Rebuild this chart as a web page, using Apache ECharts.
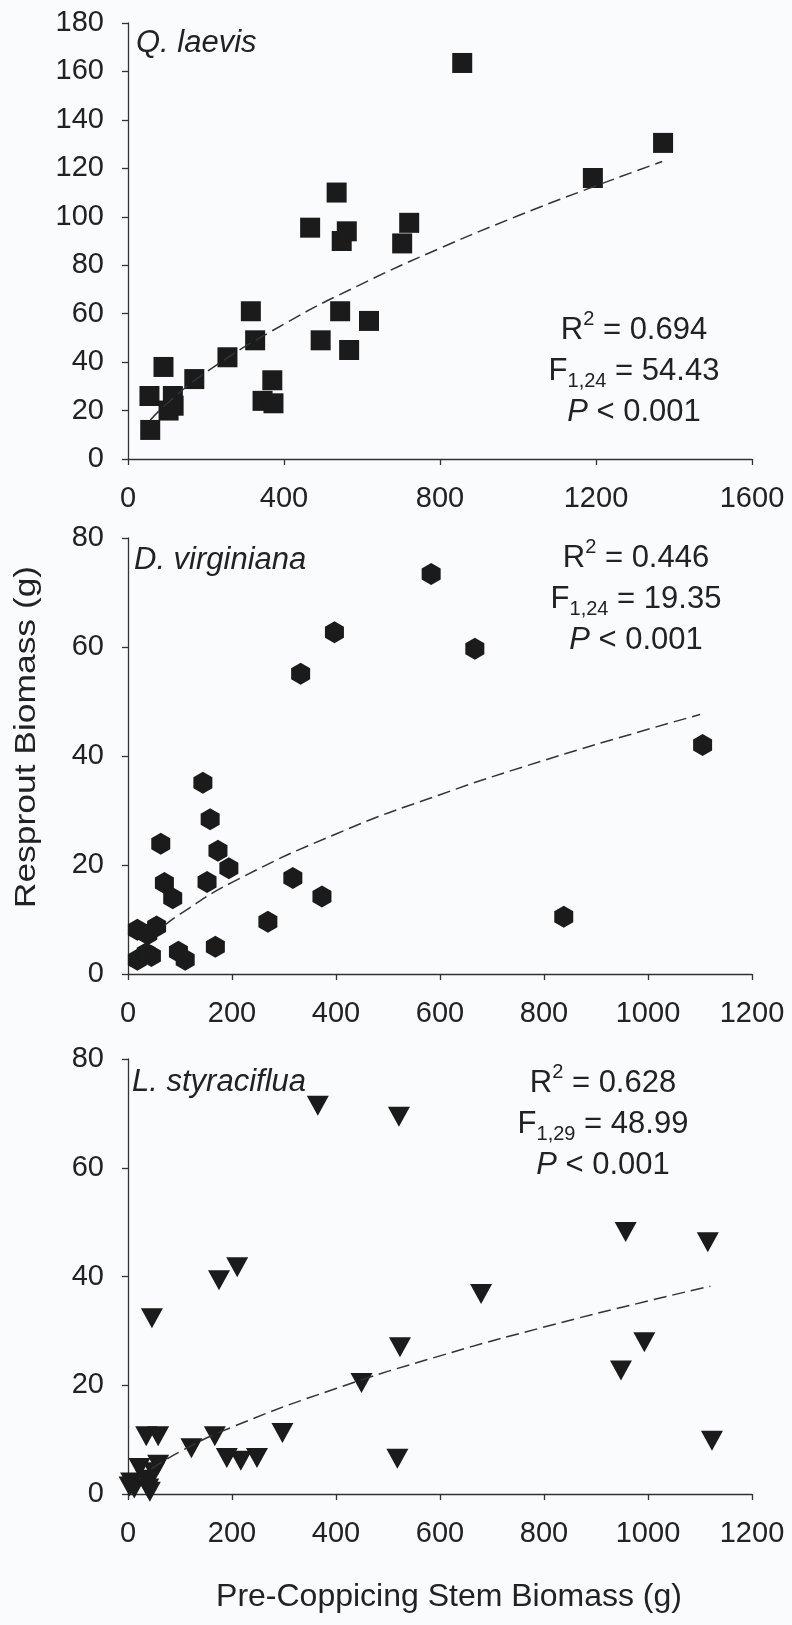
<!DOCTYPE html>
<html>
<head>
<meta charset="utf-8">
<script src="https://cdn.jsdelivr.net/npm/echarts@6.0.0/dist/echarts.min.js"></script>
<style>
  html, body { margin: 0; padding: 0; background: #fafbfd; }
  #main { width: 792px; height: 1625px; }
</style>
</head>
<body>
<div id="main"></div>
<script>
// Q. laevis (squares)
var qlX = [57, 55, 91, 115, 104, 117, 170, 255, 315, 326, 345, 370, 373, 467, 494, 535, 544, 548, 561, 567, 618, 703, 721, 857, 1192, 1372];
var qlY = [12, 26, 38, 26, 20, 22, 33, 42, 61, 49, 24, 32.5, 23, 95.5, 49, 110, 61, 90, 94, 45, 57, 89, 97.5, 163.5, 116, 130.5];
// dashed fit
var qlFitX = [57, 100, 200, 400, 600, 800, 1000, 1200, 1370];
var qlFitY = [16, 22.9, 35.8, 55.7, 72.3, 87, 100.4, 112.8, 122.8];

// D. virginiana (hexagons)
var dvX = [144, 158, 63, 173, 194, 152, 70, 86, 317, 373, 269, 168, 97, 110, 332, 397, 583, 667, 1105, 838, 18, 55, 38, 18, 45, 35];
var dvY = [35.1, 28.4, 23.9, 22.6, 19.4, 16.9, 16.7, 13.9, 17.6, 14.2, 9.6, 5.0, 4.1, 2.6, 55.1, 62.7, 73.4, 59.7, 42, 10.5, 8.1, 8.7, 7.3, 2.6, 3.3, 3.8];
var dvFitX = [70, 100, 200, 400, 600, 800, 1000, 1100];
var dvFitY = [8.9, 11, 16.8, 25.7, 32.9, 39.2, 44.9, 47.6];

// L. styraciflua (down triangles)
var lsX = [365, 521, 46, 175, 210, 523, 449, 957, 1115, 679, 993, 948, 1123, 518, 35, 58, 122, 167, 190, 217, 248, 297, 22, 58, 50, 3, 12, 6, 39, 35, 42];
var lsY = [71.4, 69.4, 32.3, 39.3, 41.7, 27.0, 20.4, 48.2, 46.3, 36.8, 27.9, 22.7, 9.8, 6.5, 10.6, 10.6, 8.4, 10.6, 6.6, 6.1, 6.6, 11.2, 4.8, 5.4, 4.0, 1.4, 1.0, 2.1, 1.0, 2.6, 0.4];
var lsFitX = [45, 100, 200, 400, 600, 800, 1000, 1120];
var lsFitY = [4.6, 7.8, 12.3, 19.4, 25.4, 30.7, 35.5, 38.2];

function pairs(xs, ys) {
    var out = [];
    for (var i = 0; i < xs.length; i++) {
        out.push([xs[i], ys[i]]);
    }
    return out;
}

var FONT = 'Liberation Sans';
var INK = '#222';
var hexPath = 'path://M0,-1 L0.866,-0.5 L0.866,0.5 L0,1 L-0.866,0.5 L-0.866,-0.5 Z';
var plain = function (v) { return String(v); };

var grids = [
    { left: 128, width: 624, top: 23, height: 436 },
    { left: 128, width: 624, top: 538, height: 436 },
    { left: 128, width: 624, top: 1059, height: 435 }
];

function xAxisCfg(idx, max, step) {
    return {
        type: 'value', gridIndex: idx, min: 0, max: max, interval: step,
        axisLine: { show: true, lineStyle: { color: '#333', width: 1.3 } },
        axisTick: { show: true, length: 6, lineStyle: { color: '#333', width: 1.3 } },
        axisLabel: { fontFamily: FONT, fontSize: 29, color: INK, margin: 25, formatter: plain },
        splitLine: { show: false }
    };
}
function yAxisCfg(idx, max, step) {
    return {
        type: 'value', gridIndex: idx, min: 0, max: max, interval: step,
        axisLine: { show: true, lineStyle: { color: '#333', width: 1.3 } },
        axisTick: { show: true, length: 6, lineStyle: { color: '#333', width: 1.3 } },
        axisLabel: { fontFamily: FONT, fontSize: 29, color: INK, margin: 24, formatter: plain },
        splitLine: { show: false }
    };
}
function fitLine(idx, xs, ys) {
    return {
        type: 'line', xAxisIndex: idx, yAxisIndex: idx,
        data: pairs(xs, ys), smooth: true, showSymbol: false, silent: true,
        lineStyle: { color: '#333', width: 1.5, type: [13, 6] }
    };
}
function statText(x, y, r2, df, f) {
    return {
        type: 'text', x: x, y: y, silent: true,
        style: {
            text: '{t|R}{sup|2}{t| = ' + r2 + '}\n{t|F}{sub|' + df + '}{t| = ' + f + '}\n{i|P}{t| < 0.001}',
            align: 'center', verticalAlign: 'middle', fill: INK,
            rich: {
                t: { fontFamily: FONT, fontSize: 31, lineHeight: 41, verticalAlign: 'middle', fill: INK },
                i: { fontFamily: FONT, fontSize: 31, fontStyle: 'italic', lineHeight: 41, verticalAlign: 'middle', fill: INK },
                sup: { fontFamily: FONT, fontSize: 20, lineHeight: 22, verticalAlign: 'top', fill: INK },
                sub: { fontFamily: FONT, fontSize: 20, lineHeight: 16, verticalAlign: 'bottom', fill: INK }
            }
        }
    };
}
function speciesText(x, y, name) {
    return {
        type: 'text', x: x, y: y, silent: true,
        style: { text: name, fontFamily: FONT, fontSize: 31, fontStyle: 'italic', fill: INK, align: 'left', verticalAlign: 'middle' }
    };
}

var chart = echarts.init(document.getElementById('main'), null, { renderer: 'canvas' });
chart.setOption({
    backgroundColor: '#fafbfd',
    animation: false,
    grid: grids,
    xAxis: [xAxisCfg(0, 1600, 400), xAxisCfg(1, 1200, 200), xAxisCfg(2, 1200, 200)],
    yAxis: [yAxisCfg(0, 180, 20), yAxisCfg(1, 80, 20), yAxisCfg(2, 80, 20)],
    series: [
        fitLine(0, qlFitX, qlFitY),
        fitLine(1, dvFitX, dvFitY),
        fitLine(2, lsFitX, lsFitY),
        {
            type: 'scatter', xAxisIndex: 0, yAxisIndex: 0, clip: false,
            data: pairs(qlX, qlY), symbol: 'rect', symbolSize: 20,
            itemStyle: { color: '#1b1b1b', opacity: 1 }
        },
        {
            type: 'scatter', xAxisIndex: 1, yAxisIndex: 1, clip: false,
            data: pairs(dvX, dvY), symbol: hexPath, symbolSize: [19, 22],
            itemStyle: { color: '#1b1b1b', opacity: 1 }
        },
        {
            type: 'scatter', xAxisIndex: 2, yAxisIndex: 2, clip: false,
            data: pairs(lsX, lsY), symbol: 'triangle', symbolRotate: 180, symbolSize: [22, 20],
            itemStyle: { color: '#1b1b1b', opacity: 1 }
        }
    ],
    graphic: [
        speciesText(136, 43, 'Q. laevis'),
        speciesText(134, 560, 'D. virginiana'),
        speciesText(132, 1082, 'L. styraciflua'),
        statText(634, 371, '0.694', '1,24', '54.43'),
        statText(636, 599, '0.446', '1,24', '19.35'),
        statText(603, 1124, '0.628', '1,29', '48.99'),
        {
            type: 'text', x: 449, y: 1597, silent: true,
            style: { text: 'Pre-Coppicing Stem Biomass (g)', fontFamily: FONT, fontSize: 32, fill: INK, align: 'center', verticalAlign: 'middle' }
        },
        {
            // the reference's vertical title is drawn longer than it is thick
            type: 'text', x: 27, y: 737, rotation: Math.PI / 2, scaleX: 1.18, silent: true,
            style: { text: 'Resprout Biomass (g)', fontFamily: FONT, fontSize: 30, fill: INK, align: 'center', verticalAlign: 'middle' }
        }
    ]
});
</script>
</body>
</html>
